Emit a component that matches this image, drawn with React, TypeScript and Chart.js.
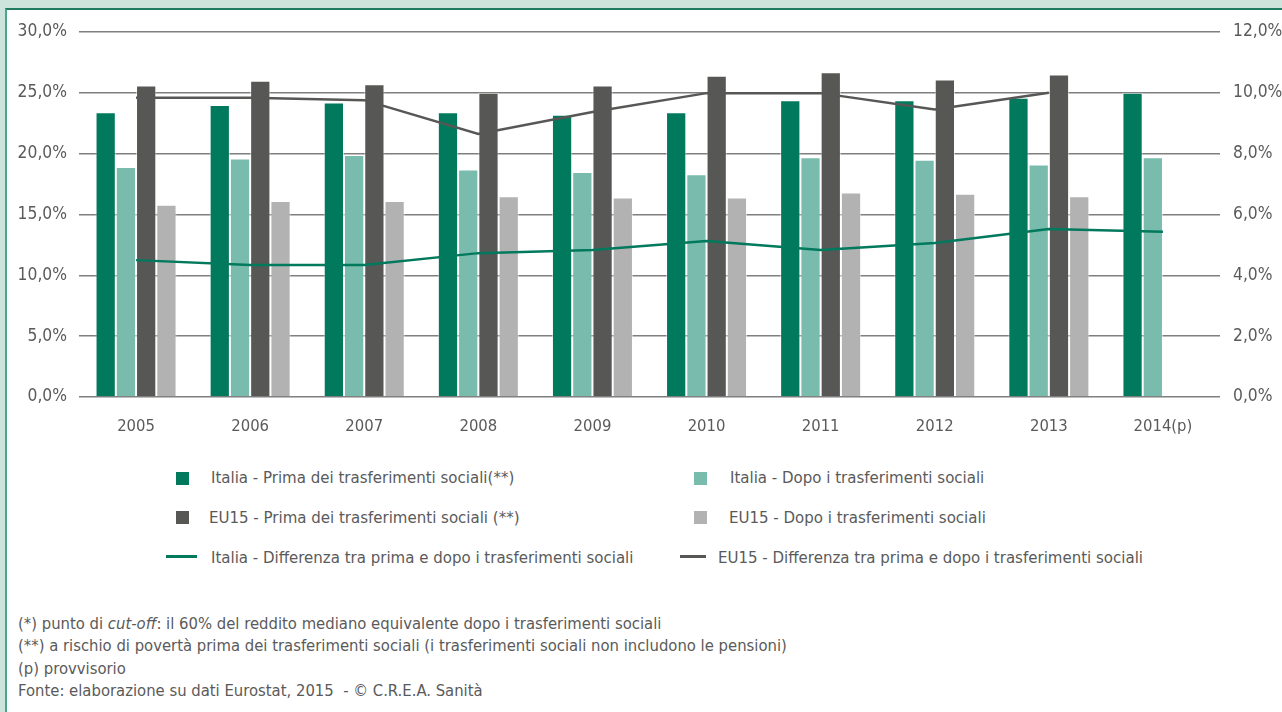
import React, { useEffect, useRef } from "react";
import { Chart, registerables } from "chart.js";

Chart.register(...registerables);

const years = ["2005", "2006", "2007", "2008", "2009", "2010", "2011", "2012", "2013", "2014(p)"];
const italiaPrima = [23.4, 24.0, 24.2, 23.4, 23.2, 23.4, 24.4, 24.4, 24.6, 25.0];
const italiaDopo = [18.9, 19.6, 19.9, 18.7, 18.5, 18.3, 19.7, 19.5, 19.1, 19.7];
const eu15Prima = [25.6, 26.0, 25.7, 25.0, 25.6, 26.4, 26.7, 26.1, 26.5, null];
const eu15Dopo = [15.8, 16.1, 16.1, 16.5, 16.4, 16.4, 16.8, 16.7, 16.5, null];
const italiaDiff = [4.5, 4.34, 4.34, 4.73, 4.83, 5.13, 4.83, 5.06, 5.52, 5.43];
const eu15Diff = [9.84, 9.84, 9.76, 8.65, 9.37, 9.99, 9.99, 9.45, 10.0, null];

const seriesLabels = [
  "Italia - Prima dei trasferimenti sociali(**)",
  "Italia - Dopo i trasferimenti sociali",
  "EU15 - Prima dei trasferimenti sociali (**)",
  "EU15 - Dopo i trasferimenti sociali",
  "Italia - Differenza tra prima e dopo i trasferimenti sociali",
  "EU15 - Differenza tra prima e dopo i trasferimenti sociali",
];
const seriesColors = ["#00795d", "#79bbad", "#575756", "#b2b2b2", "#00795d", "#575756"];

const FONT = "'Liberation Sans Narrow', 'DejaVu Sans Condensed', 'Liberation Sans', sans-serif";
const TEXT = "#5a5a5a";

const fmt = (v: number) => v.toFixed(1).replace(".", ",") + "%";

export default function App() {
  const ref = useRef<HTMLCanvasElement | null>(null);

  useEffect(() => {
    if (!ref.current) return;
    const barDs = (i: number, data: (number | null)[]) => ({
      type: "bar" as const,
      label: seriesLabels[i],
      data,
      backgroundColor: seriesColors[i],
      borderColor: "rgba(255,255,255,0.55)",
      borderWidth: 1,
      yAxisID: "y",
      order: 2,
      categoryPercentage: 0.71,
      barPercentage: 1.0,
    });
    const lineDs = (i: number, data: (number | null)[]) => ({
      type: "line" as const,
      label: seriesLabels[i],
      data,
      borderColor: seriesColors[i],
      backgroundColor: seriesColors[i],
      borderWidth: 2.5,
      pointRadius: 0,
      tension: 0,
      yAxisID: "y2",
      order: 0,
      spanGaps: false,
    });
    const chart = new Chart(ref.current, {
      data: {
        labels: years,
        datasets: [
          barDs(0, italiaPrima),
          barDs(1, italiaDopo),
          barDs(2, eu15Prima),
          barDs(3, eu15Dopo),
          lineDs(4, italiaDiff),
          lineDs(5, eu15Diff),
        ],
      } as any,
      options: {
        animation: false,
        responsive: false,
        maintainAspectRatio: false,
        layout: { padding: { left: 0, right: 0, top: 32, bottom: 0 } },
        plugins: { legend: { display: false }, tooltip: { enabled: false } },
        scales: {
          x: {
            grid: { display: false },
            border: { display: false },
            ticks: { color: TEXT, font: { family: FONT, size: 16.5 }, padding: 12 },
            afterFit: (s: any) => { s.height = 48; },
          },
          y: {
            position: "left",
            min: 0,
            max: 30,
            ticks: { stepSize: 5, color: TEXT, font: { family: FONT, size: 17.3 }, padding: 12, callback: (v: any) => fmt(Number(v)) },
            grid: { color: "#7f7f7f", lineWidth: 1.5, drawTicks: false },
            border: { display: false },
            afterFit: (s: any) => { s.width = 79; },
          },
          y2: {
            position: "right",
            min: 0,
            max: 12,
            ticks: { stepSize: 2, color: TEXT, font: { family: FONT, size: 17.3 }, padding: 13, callback: (v: any) => fmt(Number(v)) },
            grid: { display: false, drawTicks: false },
            border: { display: false },
            afterFit: (s: any) => { s.width = 62; },
          },
        },
      } as any,
    });
    return () => chart.destroy();
  }, []);

  const sq = (color: string, left: number, top: number) => (
    <div style={{ position: "absolute", left, top, width: 13, height: 13, background: color }} />
  );
  const ln = (color: string, left: number, top: number, width: number) => (
    <div style={{ position: "absolute", left, top, width, height: 3, background: color }} />
  );
  const txt = (s: string, left: number, top: number) => (
    <div style={{ position: "absolute", left, top, fontFamily: FONT, fontSize: 16.7, color: TEXT, whiteSpace: "nowrap", lineHeight: "20px" }}>{s}</div>
  );

  return (
    <div style={{ position: "fixed", left: 0, top: 0, width: 1282, height: 712, background: "#cde4dd", overflow: "hidden" }}>
      <div style={{ position: "absolute", left: 5, top: 8, right: 0, bottom: 0, background: "#ffffff", borderLeft: "2px solid #4aa68b", borderTop: "2px solid #1f7c60" }} />
      <canvas ref={ref} width={1282} height={445} style={{ position: "absolute", left: 0, top: 0, width: 1282, height: 445 }} />
      {sq(seriesColors[0], 176, 472)}
      {txt(seriesLabels[0], 211, 467)}
      {sq(seriesColors[1], 694, 472)}
      {txt(seriesLabels[1], 730, 467)}
      {sq(seriesColors[2], 176, 511)}
      {txt(seriesLabels[2], 209, 507)}
      {sq(seriesColors[3], 694, 511)}
      {txt(seriesLabels[3], 729, 507)}
      {ln(seriesColors[4], 166, 555, 31)}
      {txt(seriesLabels[4], 211, 547)}
      {ln(seriesColors[5], 680, 555, 26)}
      {txt(seriesLabels[5], 718, 547)}
      <div style={{ position: "absolute", left: 18, top: 613, fontFamily: FONT, fontSize: 16.5, color: TEXT, lineHeight: "22.3px", whiteSpace: "nowrap" }}>
        <div>(*) punto di <i>cut-off</i>: il 60% del reddito mediano equivalente dopo i trasferimenti sociali</div>
        <div>(**) a rischio di povertà prima dei trasferimenti sociali (i trasferimenti sociali non includono le pensioni)</div>
        <div>(p) provvisorio</div>
        <div>Fonte: elaborazione su dati Eurostat, 2015 &nbsp;- © C.R.E.A. Sanità</div>
      </div>
    </div>
  );
}
